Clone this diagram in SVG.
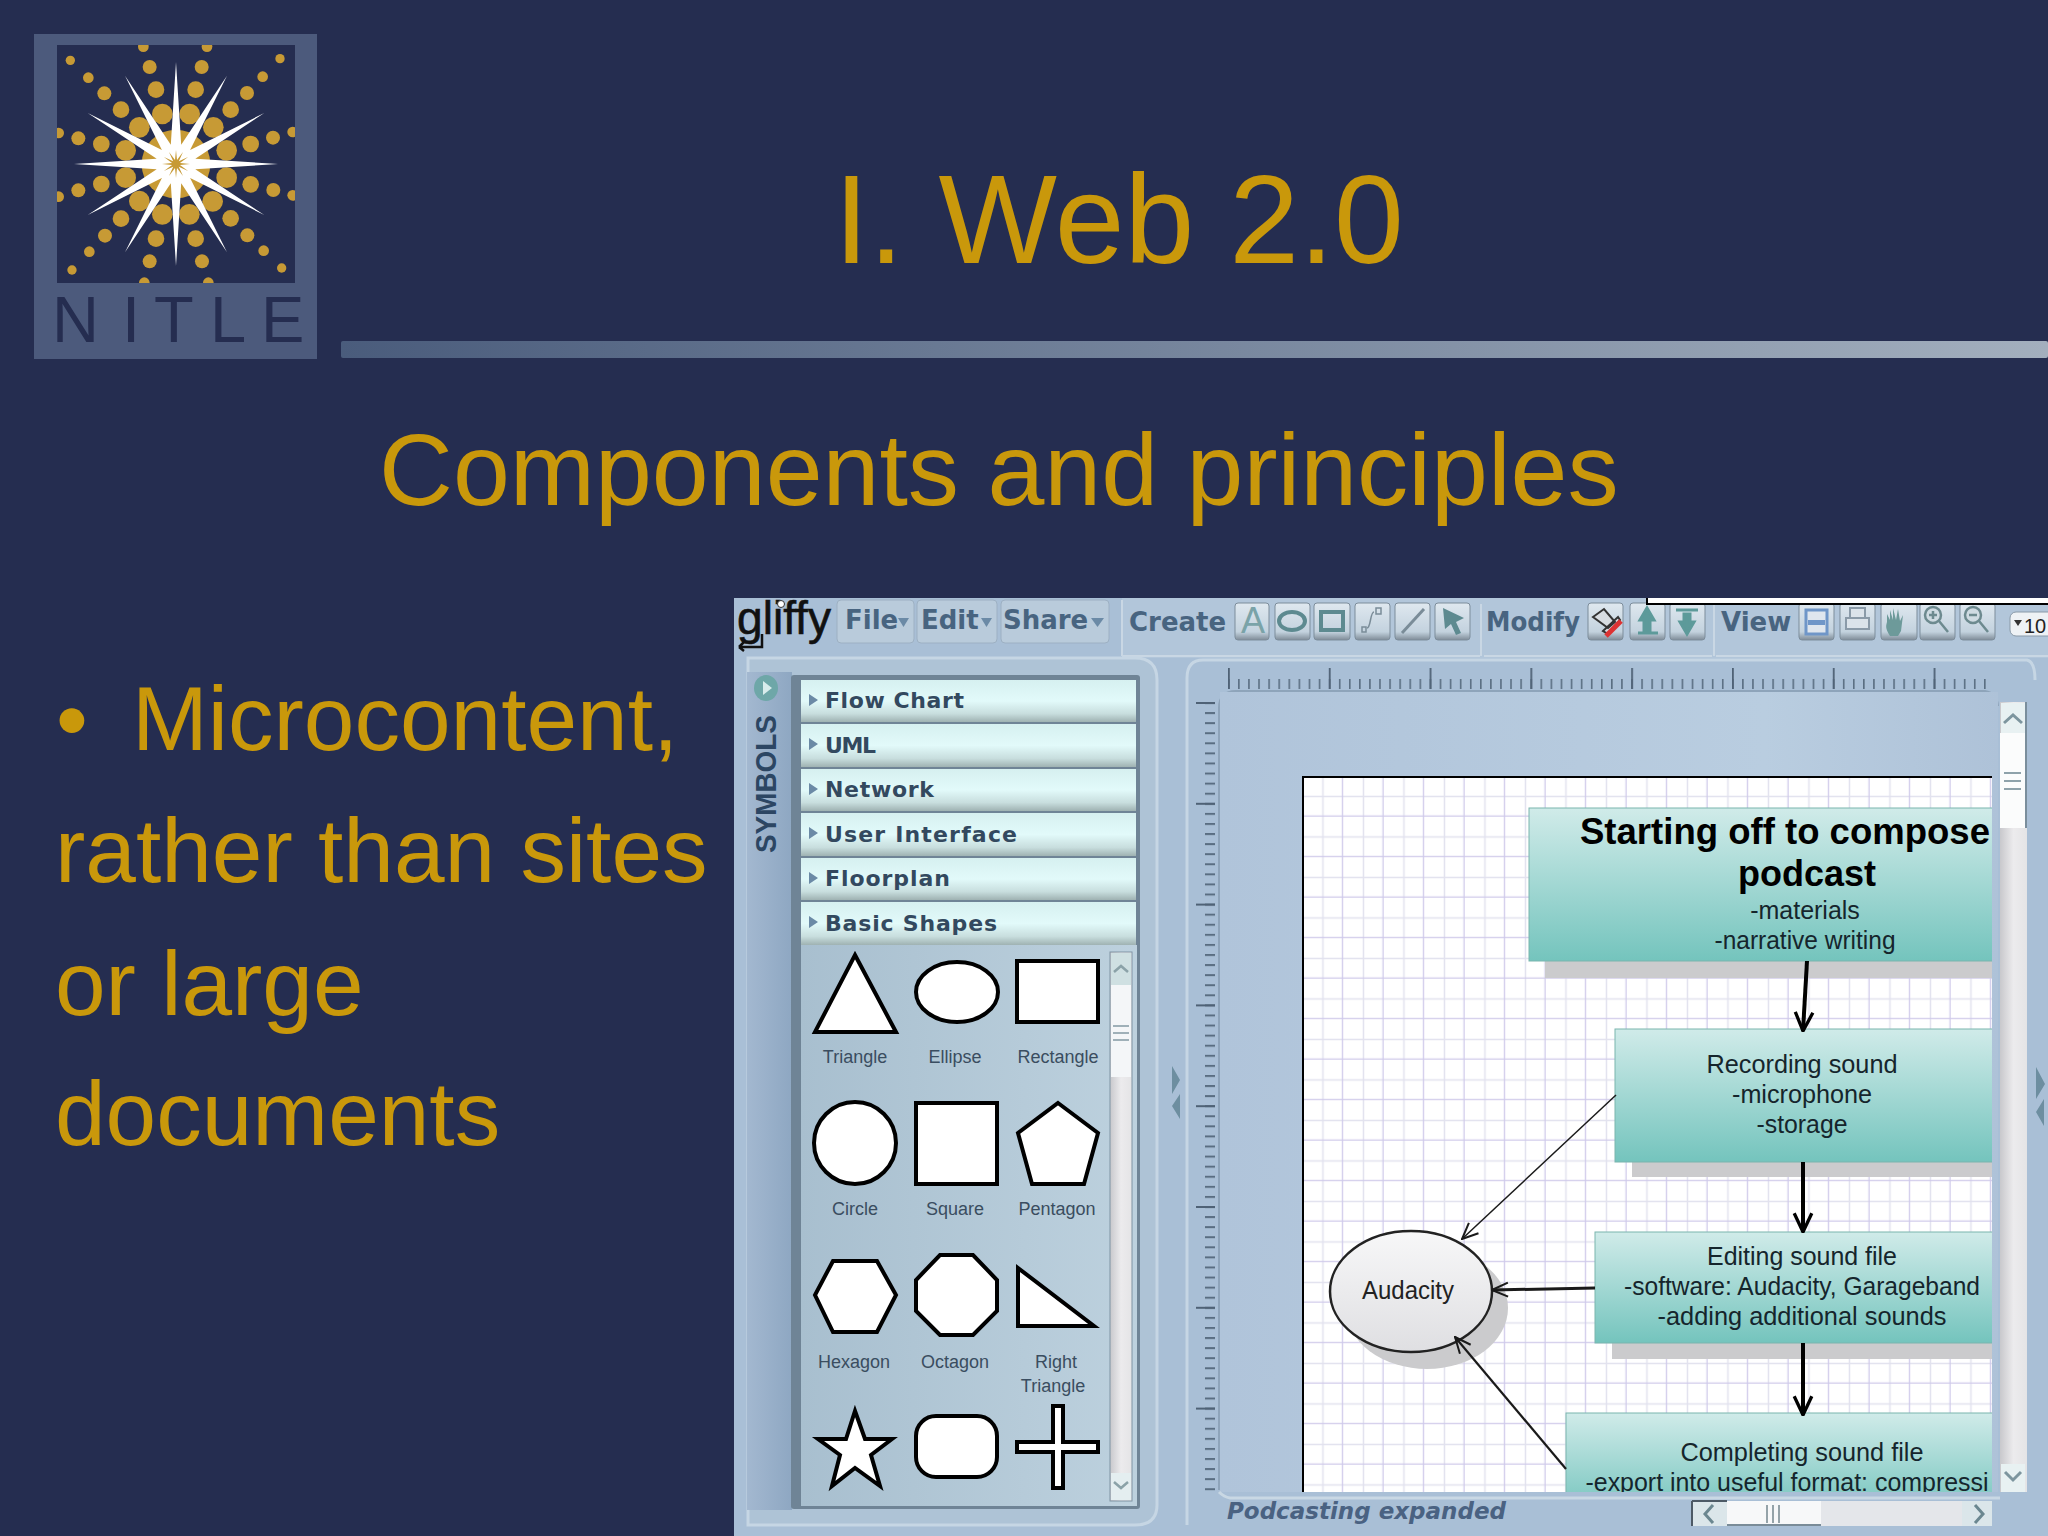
<svg xmlns="http://www.w3.org/2000/svg" width="2048" height="1536" viewBox="0 0 2048 1536">
<style>
.gold{font-family:"Liberation Sans",Arial,sans-serif;fill:#c9980b}
.acc{font-family:"DejaVu Sans",sans-serif;font-weight:bold;font-size:22px;fill:#33495f}
.tool{font-family:"DejaVu Sans",sans-serif;font-weight:bold;font-size:26px;fill:#486480}
.lab{font-family:"Liberation Sans",Arial,sans-serif;font-size:18px;fill:#3a4d60;text-anchor:middle}
.shp{fill:#fff;stroke:#000;stroke-width:4;stroke-linejoin:miter}
.body{font-family:"Liberation Sans",Arial,sans-serif;font-size:25px;fill:#15252c;text-anchor:middle}
.head{font-family:"Liberation Sans",Arial,sans-serif;font-weight:bold;font-size:36px;fill:#000;text-anchor:middle}
.btn{fill:url(#btnG);stroke:#7d8d9b;stroke-width:1}
.ico{fill:none;stroke:#5d8a90;stroke-width:4}
.box{fill:url(#boxG);stroke:#7bb5ae;stroke-width:1}
.shad{fill:#cbcbcd}
.acr{fill:url(#accG)}
.tri{fill:#6b8aa6}
.c1{fill:none;stroke:#000;stroke-width:4}
.c2{fill:none;stroke:#1a1a1a;stroke-width:2}
</style>
<defs>
<linearGradient id="barG"><stop offset="0" stop-color="#4a5c7c"/><stop offset="1" stop-color="#a3afbe"/></linearGradient>
<linearGradient id="boxG" x1="0" y1="0" x2="0" y2="1"><stop offset="0" stop-color="#d0ebe9"/><stop offset="1" stop-color="#74c4bd"/></linearGradient>
<linearGradient id="accG" x1="0" y1="0" x2="0" y2="1"><stop offset="0" stop-color="#d6f0f0"/><stop offset=".5" stop-color="#e2fafa"/><stop offset=".8" stop-color="#c8dede"/><stop offset="1" stop-color="#9fb2b2"/></linearGradient>
<linearGradient id="btnG" x1="0" y1="0" x2="0" y2="1"><stop offset="0" stop-color="#dfe8ef"/><stop offset=".78" stop-color="#c3d2de"/><stop offset="1" stop-color="#7f8c98"/></linearGradient>
<linearGradient id="ellG" x1="0" y1="0" x2="0" y2="1"><stop offset="0" stop-color="#f7f7f8"/><stop offset="1" stop-color="#dfdfe2"/></linearGradient>
<linearGradient id="panelG" x1="0" y1="0" x2="1" y2="0"><stop offset="0" stop-color="#a8bfcf"/><stop offset="1" stop-color="#bdd1de"/></linearGradient>
<linearGradient id="canvG" x1="0" y1="0" x2="1" y2="0"><stop offset="0" stop-color="#b0c4da"/><stop offset=".7" stop-color="#b9cde0"/><stop offset="1" stop-color="#aec2d8"/></linearGradient>
<linearGradient id="trackG"><stop offset="0" stop-color="#c8c8cc"/><stop offset=".5" stop-color="#ecebed"/><stop offset="1" stop-color="#e4e4e6"/></linearGradient>
<linearGradient id="tabG"><stop offset="0" stop-color="#a3b8d0"/><stop offset="1" stop-color="#8ea7c2"/></linearGradient>
<pattern id="grid" x="1302.7" y="776.2" width="40.5" height="40.5" patternUnits="userSpaceOnUse">
<path d="M20.25 0V40.5M0 20.25H40.5" stroke="#e2e2ee" stroke-width="1.5" fill="none"/>
<path d="M40.5 0V40.5M0 40.5H40.5" stroke="#cfc9ea" stroke-width="2.500" fill="none"/>
</pattern>
<pattern id="hMinor" x="1228" y="0" width="10.08" height="20" patternUnits="userSpaceOnUse"><rect x="0" width="1.6" height="20" fill="#5a6e82"/></pattern>
<pattern id="hMajor" x="1228" y="0" width="100.8" height="30" patternUnits="userSpaceOnUse"><rect x="0" width="1.8" height="30" fill="#4f6276"/></pattern>
<pattern id="vMinor" x="0" y="702" width="20" height="10.08" patternUnits="userSpaceOnUse"><rect y="0" width="20" height="2" fill="#5a6e82"/></pattern>
<pattern id="vMajor" x="0" y="702" width="30" height="100.8" patternUnits="userSpaceOnUse"><rect y="0" width="30" height="2" fill="#4f6276"/></pattern>
<marker id="openBig" viewBox="0 0 20 20" refX="19" refY="10" markerWidth="22" markerHeight="22" markerUnits="userSpaceOnUse" orient="auto"><path d="M2 2L19 10L2 18" fill="none" stroke="#000" stroke-width="3"/></marker>
<marker id="openSm" viewBox="0 0 20 20" refX="19" refY="10" markerWidth="20" markerHeight="20" markerUnits="userSpaceOnUse" orient="auto"><path d="M3 3L19 10L3 17" fill="none" stroke="#1a1a1a" stroke-width="2"/></marker>
<clipPath id="logoClip"><rect x="57" y="45" width="238" height="238"/></clipPath>
<clipPath id="pageClip"><rect x="1302" y="776" width="690" height="716"/></clipPath>
<clipPath id="screenClip"><rect x="734" y="598" width="1314" height="938"/></clipPath>
</defs>

<rect width="2048" height="1536" fill="#252d50"/>

<g id="logo">
<rect x="34" y="34" width="283" height="325" fill="#4c5a7c"/>
<rect x="57" y="45" width="238" height="238" fill="#252d50"/>
<g clip-path="url(#logoClip)" fill="#c79a35">
<g transform="scale(.33333)">
<circle cx="528" cy="492" r="103"/>
<circle cx="430" cy="140" r="16"/><circle cx="621" cy="140" r="16"/><circle cx="211" cy="181" r="14"/><circle cx="840" cy="176" r="14"/>
<circle cx="449" cy="201" r="21"/><circle cx="605" cy="201" r="21"/><circle cx="265" cy="233" r="16"/><circle cx="788" cy="230" r="16"/>
<circle cx="468" cy="269" r="25"/><circle cx="587" cy="269" r="25"/><circle cx="313" cy="280" r="21"/><circle cx="741" cy="279" r="21"/>
<circle cx="363" cy="329" r="25"/><circle cx="692" cy="329" r="25"/><circle cx="487" cy="342" r="31"/><circle cx="569" cy="342" r="31"/>
<circle cx="418" cy="382" r="31"/><circle cx="640" cy="382" r="31"/><circle cx="176" cy="399" r="16"/><circle cx="878" cy="396" r="16"/>
<circle cx="235" cy="415" r="21"/><circle cx="819" cy="413" r="21"/><circle cx="304" cy="432" r="25"/><circle cx="752" cy="432" r="25"/>
<circle cx="377" cy="451" r="31"/><circle cx="680" cy="451" r="31"/><circle cx="377" cy="533" r="31"/><circle cx="680" cy="533" r="31"/>
<circle cx="304" cy="552" r="25"/><circle cx="752" cy="553" r="25"/><circle cx="235" cy="571" r="21"/><circle cx="820" cy="570" r="21"/>
<circle cx="176" cy="590" r="16"/><circle cx="878" cy="586" r="16"/><circle cx="418" cy="603" r="31"/><circle cx="638" cy="604" r="31"/>
<circle cx="487" cy="643" r="31"/><circle cx="568" cy="643" r="31"/><circle cx="363" cy="656" r="25"/><circle cx="692" cy="655" r="25"/>
<circle cx="315" cy="707" r="21"/><circle cx="742" cy="706" r="21"/><circle cx="468" cy="716" r="25"/><circle cx="587" cy="716" r="25"/>
<circle cx="268" cy="755" r="16"/><circle cx="791" cy="752" r="16"/><circle cx="449" cy="784" r="21"/><circle cx="606" cy="784" r="21"/>
<circle cx="216" cy="810" r="14"/><circle cx="845" cy="804" r="14"/><circle cx="433" cy="848" r="16"/><circle cx="625" cy="848" r="16"/>
</g>
</g>
<polygon fill="#fff" points="176,62 181.2,144.7 227,75.7 190.1,149.9 264.3,113 195.3,158.8 278,164 195.3,169.2 264.3,215 190.1,178.1 227,252.3 181.2,183.3 176,266 170.8,183.3 125,252.3 161.9,178.1 87.7,215 156.7,169.2 74,164 156.700,158.8 87.7,113 161.9,149.9 125,75.7 170.8,144.7"/>
<polygon fill="#c79a35" points="176,150 177,160.1 183,151.9 178.8,161.2 188.1,157 179.9,163 190,164 179.9,165 188.1,171 178.8,166.8 183,176.1 177,167.9 176,178 175,167.9 169,176.1 173.2,166.8 163.9,171 172.1,165 162,164 172.1,163 163.9,157 173.2,161.2 169,151.9 175,160.1"/>
<text x="52 122 154 210 261" y="342" font-family="'Liberation Sans',Arial,sans-serif" font-size="65" fill="#252d50">NITLE</text>
</g>

<rect id="titleBar" x="341" y="341" width="1707" height="17" rx="2" fill="url(#barG)"/>

<text class="gold" x="834" y="263" font-size="125.500">I. Web 2.0</text>
<text class="gold" x="379" y="505" font-size="102.300">Components and principles</text>
<g id="bullets">
<text class="gold" x="56" y="751" font-size="91">•</text>
<text class="gold" x="132" y="750" font-size="91">Microcontent,</text>
<text class="gold" x="55" y="882" font-size="91">rather than sites</text>
<text class="gold" x="55" y="1015" font-size="91">or large</text>
<text class="gold" x="55" y="1145" font-size="91">documents</text>
</g>

<g id="screenshot" clip-path="url(#screenClip)">
<rect x="734" y="598" width="1314" height="938" fill="#a9bfd6"/>

<g id="toolbar">
<text x="737" y="634" font-family="'Liberation Sans',Arial,sans-serif" font-size="46" fill="#111" stroke="#111" stroke-width=".6" textLength="94" lengthAdjust="spacingAndGlyphs">gliffy</text>
<circle cx="781" cy="604" r="3.500" fill="#fff" stroke="#333" stroke-width="1"/>
<path d="M739 647H762V634M739 647l5-5M739 647l5 4" fill="none" stroke="#111" stroke-width="2.500"/>
<rect x="837" y="600" width="77" height="43" rx="4" fill="#b9cbdb" stroke="#9db0c3"/>
<rect x="917" y="600" width="80" height="43" rx="4" fill="#b9cbdb" stroke="#9db0c3"/>
<rect x="1001" y="600" width="108" height="43" rx="4" fill="#b9cbdb" stroke="#9db0c3"/>
<text class="tool" x="845" y="629">File</text><path class="tri" d="M898 618h11l-5.500 9z"/>
<text class="tool" x="921" y="629">Edit</text><path class="tri" d="M981 618h11l-5.500 9z"/>
<text class="tool" x="1003" y="629">Share</text><path class="tri" d="M1091 618h13l-6.500 9z"/>
<rect x="1122" y="598" width="930" height="60" fill="#b2c6da"/>
<path d="M1122 600V656" stroke="#c9d7e4" stroke-width="2"/>
<path d="M1122 656H1480M1484 656H1712M1716 656H2048" stroke="#c9d7e4" stroke-width="2"/>
<path d="M1481 604V656M1714 604V656" stroke="#c9d7e4" stroke-width="2"/>
<text class="tool" x="1129" y="631">Create</text>
<text class="tool" x="1486" y="631" textLength="94" lengthAdjust="spacingAndGlyphs">Modify</text>
<text class="tool" x="1721" y="631">View</text>
<rect class="btn" x="1235" y="603" width="34" height="37" rx="3"/>
<rect class="btn" x="1275" y="603" width="35" height="37" rx="3"/>
<rect class="btn" x="1314" y="603" width="36" height="37" rx="3"/>
<rect class="btn" x="1355" y="603" width="35" height="37" rx="3"/>
<rect class="btn" x="1395" y="603" width="35" height="37" rx="3"/>
<rect class="btn" x="1435" y="603" width="35" height="37" rx="3"/>
<rect class="btn" x="1588" y="603" width="35" height="37" rx="3"/>
<rect class="btn" x="1630" y="603" width="35" height="37" rx="3"/>
<rect class="btn" x="1670" y="603" width="35" height="37" rx="3"/>
<rect class="btn" x="1799" y="603" width="35" height="37" rx="3"/>
<rect class="btn" x="1840" y="603" width="35" height="37" rx="3"/>
<rect class="btn" x="1881" y="603" width="36" height="37" rx="3"/>
<rect class="btn" x="1920" y="603" width="35" height="37" rx="3"/>
<rect class="btn" x="1960" y="603" width="35" height="37" rx="3"/>
<text x="1241" y="633" font-family="'Liberation Sans',Arial,sans-serif" font-size="36" fill="#7aa3a8">A</text>
<ellipse class="ico" cx="1292" cy="621" rx="13" ry="9"/>
<rect class="ico" x="1321" y="612" width="22" height="18"/>
<path d="M1362 632h4v-5h-4zM1367 628c4 0 3-16 7-16M1376 608h5v6h-5z" fill="none" stroke="#7a8c98" stroke-width="1.500"/>
<path d="M1402 633L1424 609" stroke="#7a8c98" stroke-width="3"/>
<path d="M1443 608L1464 618L1456 622L1461 633L1456 635L1451 624L1445 629Z" fill="#5d8a90"/>
<path d="M1593 617l11-8 11 13-7 6zM1603 631l15-14 2 3-12 14z" fill="#d8dde2" stroke="#333" stroke-width="2"/>
<path d="M1606 636L1621 621" stroke="#d33" stroke-width="5"/>
<path d="M1647 608l7 12h-4v10h-6v-10h-4zM1638 633h20" fill="#5d9a9a" stroke="#5d9a9a" stroke-width="3"/>
<path d="M1676 610h22M1687 634l-7-12h4v-8h6v8h4z" fill="#5d9a9a" stroke="#5d9a9a" stroke-width="3"/>
<rect x="1806" y="610" width="21" height="24" fill="#dfe6ee" stroke="#6f96c8" stroke-width="3"/><rect x="1808" y="620" width="17" height="5" fill="#6f96c8"/>
<path d="M1850 608h15v10h-15zM1846 618h23v11h-23z" fill="#dbe3ea" stroke="#8a9aa8" stroke-width="2"/>
<path d="M1890 636c-5-8-4-10-3-14v-8l3 6v-10l3 10v-12l3 12 2-11 2 12 3-6-2 16-3 5z" fill="#6d9a9a"/>
<circle cx="1933" cy="615" r="8" fill="#cfdbe2" stroke="#6d8a8f" stroke-width="2.500"/><path d="M1939 621l9 11M1929 615h8M1933 611v8" stroke="#6d8a8f" stroke-width="2.500"/>
<circle cx="1973" cy="615" r="8" fill="#cfdbe2" stroke="#6d8a8f" stroke-width="2.500"/><path d="M1979 621l9 11M1969 615h8" stroke="#6d8a8f" stroke-width="2.500"/>
<rect x="2010" y="612" width="60" height="24" rx="6" fill="#eef2f5" stroke="#8a9aa8"/>
<path d="M2014 620h8l-4 6z" fill="#333"/>
<text x="2024" y="633" font-family="'Liberation Sans',Arial,sans-serif" font-size="20" fill="#222">10</text>
<rect x="1647" y="596" width="410" height="8" fill="#fff" stroke="#000" stroke-width="2"/>
</g>

<g id="symbolsPanel">
<path d="M748 658H1135Q1157 658 1157 680V1505Q1157 1525 1135 1525H748Z" fill="#aec3d6" stroke="#c6d6e4" stroke-width="3"/>
<rect x="747" y="672" width="45" height="838" fill="url(#tabG)"/>
<rect x="791" y="675" width="349" height="834" rx="3" fill="#6f8496"/>
<ellipse cx="766" cy="688" rx="12" ry="13" fill="#6ea7a8"/><path d="M763 681l9 7-9 7z" fill="#d8ecec"/>
<text transform="translate(776 853) rotate(-90)" font-family="'Liberation Sans',Arial,sans-serif" font-weight="bold" font-size="30" fill="#2c4663" textLength="138" lengthAdjust="spacingAndGlyphs">SYMBOLS</text>
<rect class="acr" x="801" y="680" width="335" height="42"/>
<rect class="acr" x="801" y="724" width="335" height="43"/>
<rect class="acr" x="801" y="769" width="335" height="42"/>
<rect class="acr" x="801" y="813" width="335" height="43"/>
<rect class="acr" x="801" y="858" width="335" height="42"/>
<rect class="acr" x="801" y="902" width="335" height="43"/>
<path class="tri" d="M809 694l9 6-9 6zM809 738l9 6-9 6zM809 783l9 6-9 6zM809 827l9 6-9 6zM809 872l9 6-9 6zM809 916l9 6-9 6z"/>
<text class="acc" x="825" y="708" textLength="139">Flow Chart</text>
<text class="acc" x="825" y="753" textLength="51">UML</text>
<text class="acc" x="825" y="797" textLength="109">Network</text>
<text class="acc" x="825" y="842" textLength="192">User Interface</text>
<text class="acc" x="825" y="886" textLength="125">Floorplan</text>
<text class="acc" x="825" y="931" textLength="172">Basic Shapes</text>
<rect x="801" y="945" width="336" height="561" fill="url(#panelG)"/>
<polygon class="shp" points="855,955 896,1032 815,1032"/>
<ellipse class="shp" cx="957" cy="992" rx="41" ry="30"/>
<rect class="shp" x="1017" y="961" width="81" height="61"/>
<ellipse class="shp" cx="855" cy="1143" rx="41" ry="41"/>
<rect class="shp" x="916" y="1103" width="81" height="81"/>
<polygon class="shp" points="1058,1103 1098,1133 1084,1184 1032,1184 1018,1133"/>
<polygon class="shp" points="833,1261 877,1261 896,1295 877,1332 833,1332 815,1295"/>
<polygon class="shp" points="940,1255 973,1255 997,1280 997,1311 973,1335 940,1335 916,1311 916,1280"/>
<polygon class="shp" points="1018,1268 1018,1326 1094,1326"/>
<polygon class="shp" points="855,1411 865,1439 892,1439 871,1455 880,1486 855,1468 832,1486 840,1455 818,1439 846,1439"/>
<rect class="shp" x="916" y="1416" width="81" height="61" rx="20"/>
<polygon class="shp" points="1053,1406 1063,1406 1063,1442 1098,1442 1098,1452 1063,1452 1063,1488 1053,1488 1053,1452 1017,1452 1017,1442 1053,1442"/>
<text class="lab" x="855" y="1063">Triangle</text>
<text class="lab" x="955" y="1063">Ellipse</text>
<text class="lab" x="1058" y="1063">Rectangle</text>
<text class="lab" x="855" y="1215">Circle</text>
<text class="lab" x="955" y="1215">Square</text>
<text class="lab" x="1057" y="1215">Pentagon</text>
<text class="lab" x="854" y="1368">Hexagon</text>
<text class="lab" x="955" y="1368">Octagon</text>
<text class="lab" x="1056" y="1368">Right</text>
<text class="lab" x="1053" y="1392">Triangle</text>
<rect x="1110" y="952" width="22" height="549" fill="url(#trackG)" stroke="#7f93a3"/>
<rect x="1111" y="985" width="20" height="92" fill="#f4f6f8"/>
<rect x="1111" y="953" width="20" height="32" fill="#cfe0e2"/>
<rect x="1111" y="1473" width="20" height="27" fill="#e4eef0"/>
<path d="M1114 972l7-6 7 6M1114 1482l7 6 7-6" fill="none" stroke="#8ba2a8" stroke-width="2.500"/>
<path d="M1113 1026h16M1113 1033h16M1113 1040h16" stroke="#9fb0b8" stroke-width="2"/>
</g>

<path d="M1172 1066l8 14-8 14zM1180 1094l-8 12 8 13z" fill="#6d8ea0"/>
<path d="M2036 1067l9 17-9 15zM2044 1099l-8 13 8 14z" fill="#6d8ea0"/>

<g id="canvasFrame">
<path d="M1187 1525V678Q1187 660 1203 660H2027Q2035 662 2035 680" fill="none" stroke="#c6d6e4" stroke-width="3"/>
<rect x="1228" y="679" width="762" height="10" fill="url(#hMinor)"/>
<rect x="1228" y="668" width="762" height="21" fill="url(#hMajor)"/>
<rect x="1205" y="702" width="10" height="790" fill="url(#vMinor)"/>
<rect x="1196" y="702" width="19" height="790" fill="url(#vMajor)"/>
<path d="M1219 1490V708Q1219 691 1236 691H1985Q1997 693 1998 706" fill="none" stroke="#8ea4ba" stroke-width="2"/>
<rect x="1220" y="692" width="778" height="800" fill="url(#canvG)"/>
<path d="M1219 1492Q1224 1497 1230 1498H2000" fill="none" stroke="#c9d8e4" stroke-width="3"/>
</g>

<g id="page">
<rect x="1302" y="776" width="690" height="716" fill="#fff"/>
<rect x="1302" y="776" width="690" height="716" fill="url(#grid)"/>
<path d="M1303 1492V777H1992" fill="none" stroke="#000" stroke-width="2"/>
</g>

<g clip-path="url(#pageClip)">
<g id="node-start">
<rect class="shad" x="1545" y="961" width="460" height="17"/>
<rect class="box" x="1529" y="808" width="470" height="153"/>
<text class="head" x="1785" y="844" textLength="410" lengthAdjust="spacingAndGlyphs">Starting off to compose</text>
<text class="head" x="1807" y="886">podcast</text>
<text class="body" x="1805" y="919">-materials</text>
<text class="body" x="1805" y="949" textLength="181" lengthAdjust="spacingAndGlyphs">-narrative writing</text>
</g>
<g id="node-recording">
<rect class="shad" x="1632" y="1162" width="370" height="15"/>
<rect class="box" x="1615" y="1029" width="385" height="133"/>
<text class="body" x="1802" y="1073" textLength="191" lengthAdjust="spacingAndGlyphs">Recording sound</text>
<text class="body" x="1802" y="1103" textLength="140" lengthAdjust="spacingAndGlyphs">-microphone</text>
<text class="body" x="1802" y="1133" textLength="91" lengthAdjust="spacingAndGlyphs">-storage</text>
</g>
<g id="node-editing">
<rect class="shad" x="1612" y="1343" width="390" height="16"/>
<rect class="box" x="1595" y="1232" width="405" height="111"/>
<text class="body" x="1802" y="1265" textLength="190" lengthAdjust="spacingAndGlyphs">Editing sound file</text>
<text class="body" x="1802" y="1295" textLength="356" lengthAdjust="spacingAndGlyphs">-software: Audacity, Garageband</text>
<text class="body" x="1802" y="1325" textLength="289" lengthAdjust="spacingAndGlyphs">-adding additional sounds</text>
</g>
<g id="node-completing">
<rect class="box" x="1566" y="1413" width="434" height="100"/>
<text class="body" x="1802" y="1461" textLength="243" lengthAdjust="spacingAndGlyphs">Completing sound file</text>
<text class="body" x="1787" y="1491" textLength="403" lengthAdjust="spacingAndGlyphs">-export into useful format: compressi</text>
</g>
<g id="node-audacity">
<ellipse class="shad" cx="1427" cy="1308" rx="81" ry="61"/>
<ellipse cx="1411" cy="1291.500" rx="81" ry="60.500" fill="url(#ellG)" stroke="#222" stroke-width="2.500"/>
<text x="1408" y="1299" font-family="'Liberation Sans',Arial,sans-serif" font-size="25" fill="#222" text-anchor="middle" textLength="92" lengthAdjust="spacingAndGlyphs">Audacity</text>
</g>
</g>

<g id="connectors">
<path class="c1" d="M1807 961L1803 1031" marker-end="url(#openBig)"/>
<path class="c1" d="M1803 1162V1232" marker-end="url(#openBig)"/>
<path class="c1" d="M1803 1343V1415" marker-end="url(#openBig)"/>
<path class="c2" style="stroke-width:1.500" d="M1616 1095L1462 1239" marker-end="url(#openSm)"/>
<path class="c2" style="stroke-width:3" d="M1595 1288L1492 1290" marker-end="url(#openSm)"/>
<path class="c2" style="stroke-width:2.200" d="M1566 1469L1455 1337" marker-end="url(#openSm)"/>
</g>

<g id="vScroll">
<rect x="2000" y="702" width="27" height="790" fill="url(#trackG)"/>
<rect x="2000" y="733" width="25" height="95" fill="#fbfcfc"/>
<rect x="2001" y="703" width="24" height="30" fill="#e8f1f2"/>
<rect x="2001" y="1464" width="24" height="28" fill="#e8f1f2"/>
<path d="M2004 723l9-8 9 8M2005 1472l8 8 8-8" fill="none" stroke="#7d959e" stroke-width="3"/>
<path d="M2004 773h17M2004 781h17M2004 789h17" stroke="#8ea2aa" stroke-width="2"/>
<path d="M2026 702V828" stroke="#7a8e9c" stroke-width="2"/>
</g>

<g id="statusBar">
<text x="1227" y="1519" font-family="'DejaVu Sans',sans-serif" font-weight="bold" font-style="italic" font-size="23" fill="#4a6282" textLength="279" lengthAdjust="spacingAndGlyphs">Podcasting expanded</text>
<rect x="1692" y="1501" width="300" height="25" fill="#e4e6ea"/>
<rect x="1692" y="1501" width="35" height="25" fill="#dbe6ea"/>
<path d="M1692 1501V1526M1692 1501H1727" stroke="#4d5a66" stroke-width="2" fill="none"/>
<rect x="1727" y="1501" width="94" height="25" fill="#f7f8f9"/>
<path d="M1727 1525H1821" stroke="#7a8c98" stroke-width="2"/>
<rect x="1962" y="1501" width="30" height="25" fill="#dbe6ea"/>
<path d="M1713 1505l-8 9 8 9M1975 1505l8 9-8 9" fill="none" stroke="#6b8790" stroke-width="3"/>
<path d="M1767 1505v18M1773 1505v18M1779 1505v18" stroke="#76878f" stroke-width="1.500"/>
</g>
</g>
</svg>
